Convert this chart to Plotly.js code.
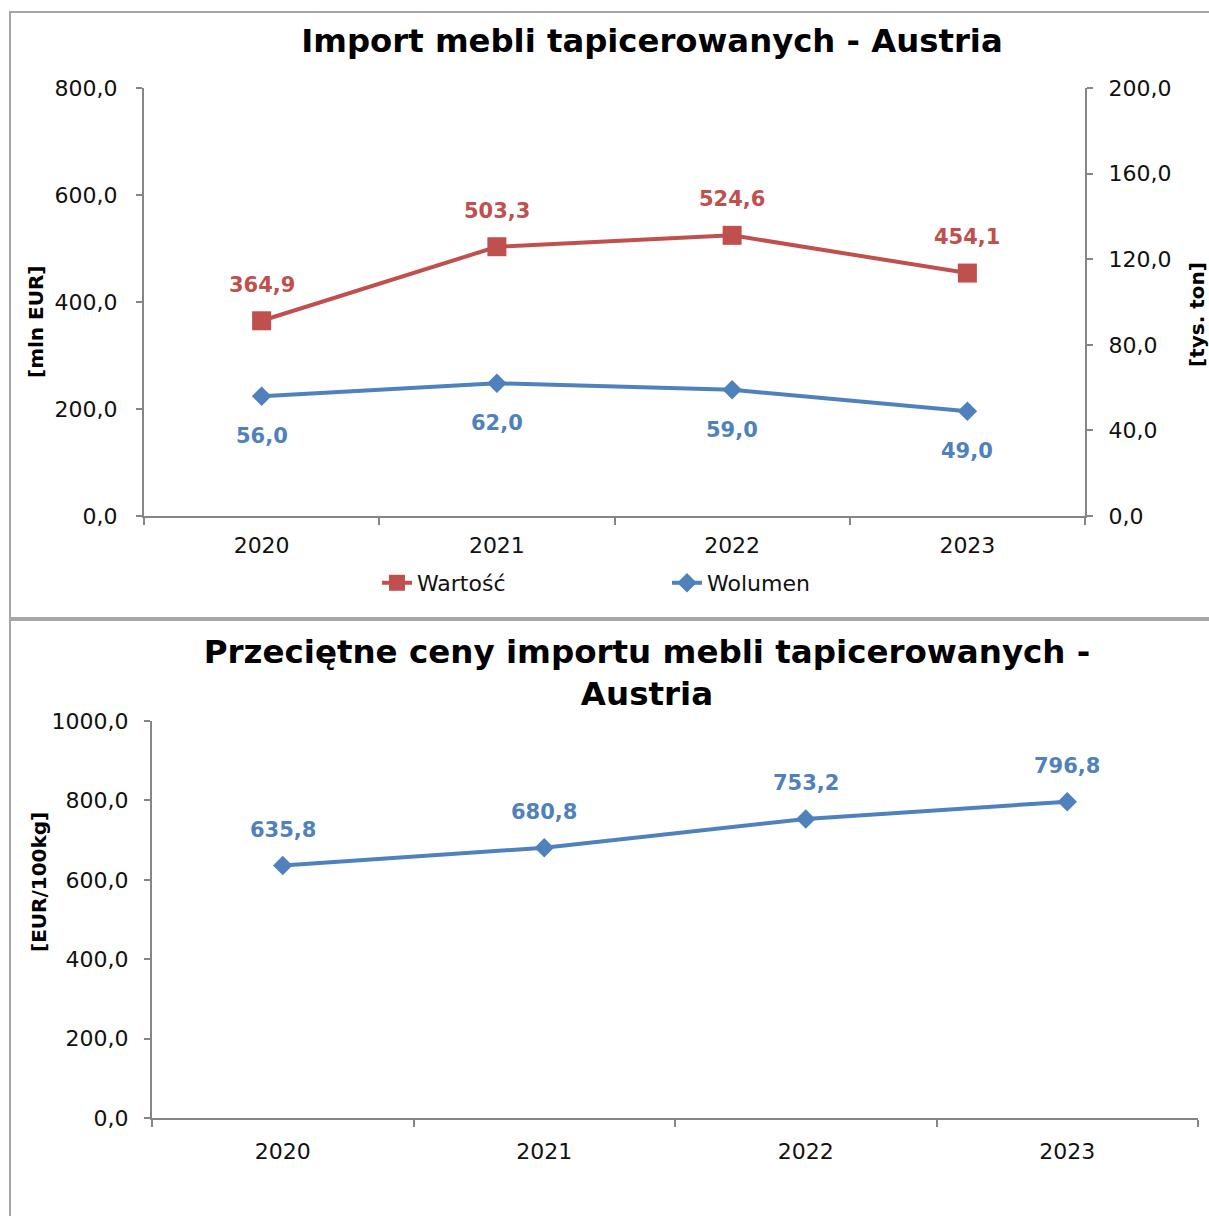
<!DOCTYPE html>
<html>
<head>
<meta charset="utf-8">
<script src="https://cdn.plot.ly/plotly-3.0.1.min.js"></script>
<style>
  html, body { margin: 0; padding: 0; background: #ffffff; overflow: hidden; width: 1209px; height: 1216px; }
  .box { position: absolute; border: 2px solid #a6a6a6; background: #ffffff; overflow: hidden; }
  #top { left: 9px; top: 11px; width: 1215px; height: 604px; }
  #bottom { left: 9px; top: 619px; width: 1215px; height: 600px; }
</style>
</head>
<body>
<div id="top" class="box"></div>
<div id="bottom" class="box"></div>
<script>
// ---- data ----
const years = ['2020', '2021', '2022', '2023'];
const wartosc = [364.9, 503.3, 524.6, 454.1];   // mln EUR
const wolumen = [56.0, 62.0, 59.0, 49.0];       // tys. ton
const ceny = [635.8, 680.8, 753.2, 796.8];      // EUR/100kg

const title1 = 'Import mebli tapicerowanych - Austria';
const title2 = 'Przeciętne ceny importu mebli tapicerowanych -<br>Austria';
const yTitle1 = '[mln EUR]';
const y2Title1 = '[tys. ton]';
const yTitle2 = '[EUR/100kg]';
const names = ['Wartość', 'Wolumen'];

// ---- style ----
const RED = '#C0504D';
const BLUE = '#4F81BD';
const AXIS = '#868686';
const FONT = '"DejaVu Sans", Verdana, sans-serif';
const fmt = v => v.toFixed(1).replace('.', ',');
const bold = s => '<b>' + s + '</b>';

// ---------- top chart ----------
const W1 = 1215, H1 = 604;
const m1 = { l: 133, r: W1 - 133 - 941, t: 75, b: H1 - 75 - 428 };

const tracesTop = [
  { x: years, y: wartosc, name: names[0], type: 'scatter', mode: 'lines+markers',
    line: { color: RED, width: 4 }, marker: { symbol: 'square', size: 19, color: RED },
    yaxis: 'y', hoverinfo: 'x+y' },
  { x: years, y: wolumen, name: names[1], type: 'scatter', mode: 'lines+markers',
    line: { color: BLUE, width: 4 }, marker: { symbol: 'diamond', size: 15, color: BLUE },
    yaxis: 'y2', hoverinfo: 'x+y' }
];

const annTop = [];
years.forEach((yr, i) => {
  const xi = years.indexOf(yr);
  annTop.push({ x: xi, y: wartosc[i], xref: 'x', yref: 'y', text: bold(fmt(wartosc[i])), showarrow: false,
    yshift: 36, font: { family: FONT, size: 21, color: RED } });
  annTop.push({ x: xi, y: wolumen[i], xref: 'x', yref: 'y2', text: bold(fmt(wolumen[i])), showarrow: false,
    yshift: -40, font: { family: FONT, size: 21, color: BLUE } });
});
annTop.push({ text: bold(yTitle1), xref: 'paper', yref: 'paper', x: (25 - 133) / 941, y: 1 - (309 - 75) / 428,
  showarrow: false, textangle: -90, xanchor: 'center', yanchor: 'middle',
  font: { family: FONT, size: 20, color: '#000' } });
annTop.push({ text: bold(y2Title1), xref: 'paper', yref: 'paper', x: (1186 - 133) / 941, y: 1 - (302 - 75) / 428,
  showarrow: false, textangle: -90, xanchor: 'center', yanchor: 'middle',
  font: { family: FONT, size: 20, color: '#000' } });

const axisCommon = {
  showline: true, linecolor: AXIS, linewidth: 2, showgrid: false, zeroline: false,
  ticks: 'outside', tickcolor: AXIS, tickwidth: 2, ticklen: 6,
  tickfont: { family: FONT, size: 22, color: '#111' }
};

const layoutTop = {
  width: W1, height: H1, margin: m1,
  paper_bgcolor: '#fff', plot_bgcolor: '#fff',
  separators: ', ',
  title: { text: title1, x: 641 / W1, xref: 'container', xanchor: 'center',
    y: 1 - 28 / H1, yref: 'container', yanchor: 'middle',
    font: { family: FONT, size: 32.3, color: '#000', weight: 'bold' } },
  xaxis: Object.assign({}, axisCommon, { type: 'category', range: [-0.5, 3.5], tickson: 'boundaries',
    ticklen: 7, ticklabelstandoff: 9 }),
  yaxis: Object.assign({}, axisCommon, { range: [0, 800], dtick: 200, tick0: 0, tickformat: '.1f',
    ticklabelstandoff: 14 }),
  yaxis2: Object.assign({}, axisCommon, { range: [0, 200], dtick: 40, tick0: 0, tickformat: '.1f',
    overlaying: 'y', side: 'right', ticklabelstandoff: 11 }),
  showlegend: true,
  legend: { orientation: 'h', x: 0.2476, xanchor: 'left', y: -0.1565, yanchor: 'middle',
    font: { family: FONT, size: 22, color: '#111' }, entrywidth: 245, bgcolor: 'rgba(0,0,0,0)' },
  annotations: annTop
};

Plotly.newPlot('top', tracesTop, layoutTop, { displayModeBar: false, staticPlot: true });

// ---------- bottom chart ----------
const W2 = 1215, H2 = 600;
const m2 = { l: 141, r: W2 - 141 - 1046, t: 100, b: H2 - 100 - 397 };

const tracesBottom = [
  { x: years, y: ceny, name: 'Ceny', type: 'scatter', mode: 'lines+markers',
    line: { color: BLUE, width: 4 }, marker: { symbol: 'diamond', size: 15, color: BLUE },
    hoverinfo: 'x+y', showlegend: false }
];
const annBottom = years.map((yr, i) => ({
  x: years.indexOf(yr), y: ceny[i], xref: 'x', yref: 'y', text: bold(fmt(ceny[i])), showarrow: false, yshift: 36,
  font: { family: FONT, size: 21, color: BLUE } }));
annBottom.push({ text: bold(yTitle2), xref: 'paper', yref: 'paper', x: (28 - 141) / 1046, y: 1 - (882 - 721) / 397,
  showarrow: false, textangle: -90, xanchor: 'center', yanchor: 'middle',
  font: { family: FONT, size: 20, color: '#000' } });

const layoutBottom = {
  width: W2, height: H2, margin: m2,
  paper_bgcolor: '#fff', plot_bgcolor: '#fff',
  separators: ', ',
  title: { text: title2, x: 636 / W2, xref: 'container', xanchor: 'center',
    y: 1 - 42 / H2, yref: 'container', yanchor: 'middle',
    font: { family: FONT, size: 32.5, color: '#000', weight: 'bold' } },
  xaxis: Object.assign({}, axisCommon, { type: 'category', range: [-0.5, 3.5], tickson: 'boundaries',
    ticklen: 7, ticklabelstandoff: 13 }),
  yaxis: Object.assign({}, axisCommon, { range: [0, 1000], dtick: 200, tick0: 0, tickformat: '.1f',
    ticklabelstandoff: 11 }),
  showlegend: false,
  annotations: annBottom
};

Plotly.newPlot('bottom', tracesBottom, layoutBottom, { displayModeBar: false, staticPlot: true });
</script>
</body>
</html>
